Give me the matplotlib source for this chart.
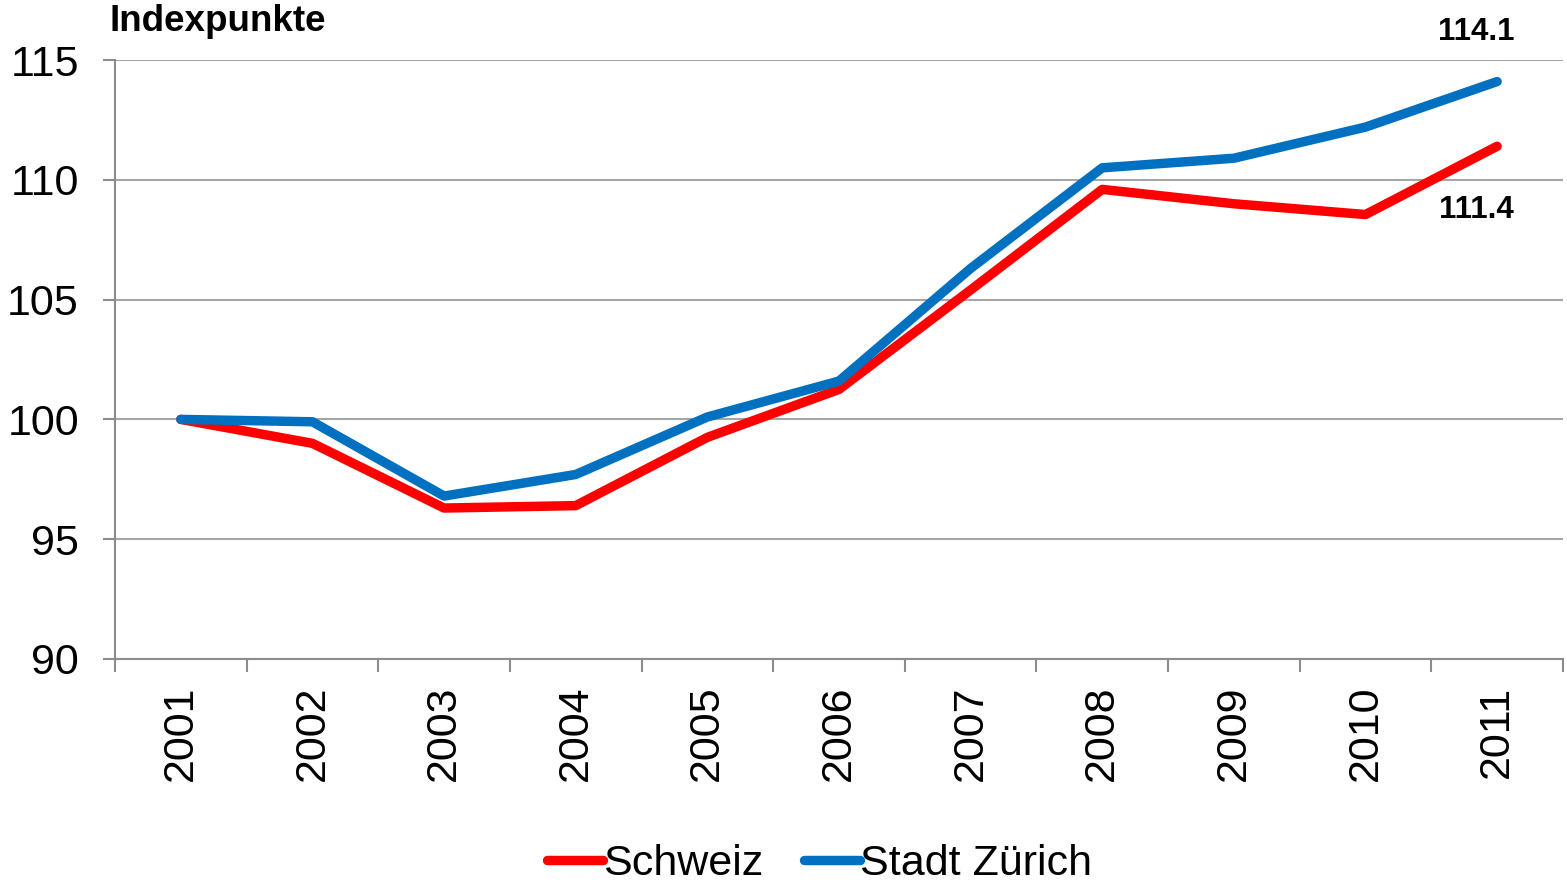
import numpy as np
import matplotlib.pyplot as plt

plt.rcParams['font.family'] = ['Liberation Sans', 'DejaVu Sans']

# -------------------- Daten --------------------
jahre = ['2001', '2002', '2003', '2004', '2005', '2006',
         '2007', '2008', '2009', '2010', '2011']
schweiz = [100.0, 99.0, 96.3, 96.4, 99.25, 101.25,
           105.4, 109.6, 109.0, 108.55, 111.4]
zuerich = [100.0, 99.9, 96.8, 97.7, 100.1, 101.6,
           106.3, 110.5, 110.9, 112.2, 114.1]
y_ticks = [90, 95, 100, 105, 110, 115]

ROT = '#FF0000'
BLAU = '#0070C0'
GRAU = '#8C8C8C'

fig = plt.figure(figsize=(15.67, 8.85), dpi=100)
ax = fig.add_axes([0.0734, 0.2554, 0.9240, 0.6768])

x = np.arange(1, len(jahre) + 1)
ax.plot(x, schweiz, color=ROT, lw=6.8, solid_capstyle='round',
        solid_joinstyle='round', label='Schweiz', zorder=3)
ax.plot(x, zuerich, color=BLAU, lw=6.8, solid_capstyle='round',
        solid_joinstyle='round', label='Stadt Zürich', zorder=3)

ax.set_xlim(0.5, len(jahre) + 0.5)
ax.set_ylim(90, 115)

# y-Achse
ax.set_yticks(y_ticks)
ax.tick_params(axis='y', labelsize=31, length=9, width=1.5, color=GRAU,
               pad=17, direction='out')
ax.grid(axis='y', color='#A6A6A6', lw=1.5, zorder=1)

# x-Achse: Ticks zwischen den Kategorien, Labels in der Mitte
ax.set_xticks(np.arange(0.5, len(jahre) + 1, 1.0))
ax.set_xticklabels([])
ax.set_xticks(x, minor=True)
ax.set_xticklabels(jahre, minor=True, rotation=90)
ax.tick_params(axis='x', which='major', length=9, width=1.5, color=GRAU,
               direction='out')
ax.tick_params(axis='x', which='minor', length=0, labelsize=31, pad=19)

for s in ['top', 'right']:
    ax.spines[s].set_visible(False)
for s in ['left', 'bottom']:
    ax.spines[s].set_color(GRAU)
    ax.spines[s].set_linewidth(1.5)

# Endwerte
ax.annotate(f'{zuerich[-1]:.1f}', (x[-1], zuerich[-1]), xytext=(-15, 36),
            textcoords='offset points', ha='center', va='center',
            fontsize=22.5, fontweight='bold')
ax.annotate(f'{schweiz[-1]:.1f}', (x[-1], schweiz[-1]), xytext=(-15, -46),
            textcoords='offset points', ha='center', va='center',
            fontsize=22.5, fontweight='bold')

fig.text(0.070, 0.976, 'Indexpunkte', fontsize=26.5, fontweight='bold',
         ha='left', va='center')

leg = fig.legend(loc='center', bbox_to_anchor=(0.523, 0.024), ncol=2,
                 frameon=False, fontsize=31, handlelength=1.3,
                 handletextpad=0.0, columnspacing=0.95)

fig.savefig('out.png', dpi=100)
